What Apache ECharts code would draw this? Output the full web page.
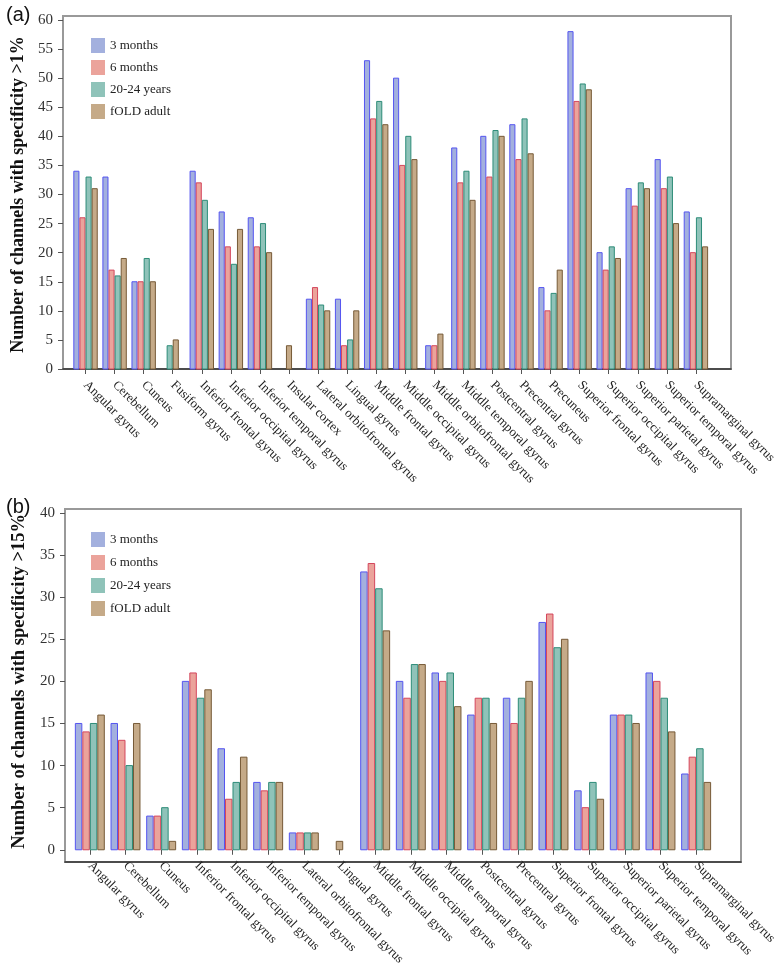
<!DOCTYPE html>
<html>
<head>
<meta charset="utf-8">
<script src="https://cdn.jsdelivr.net/npm/echarts@6/dist/echarts.min.js"></script>
<style>
html,body{margin:0;padding:0;background:#fff;}
#chart{width:779px;height:968px;}
</style>
</head>
<body>
<div id="chart"></div>
<script>
// ---------- DATA ----------
const seriesNames = ['3 months', '6 months', '20-24 years', 'fOLD adult'];

const categoriesA = ['Angular gyrus','Cerebellum','Cuneus','Fusiform gyrus','Inferior frontal gyrus',
  'Inferior occipital gyrus','Inferior temporal gyrus','Insular cortex','Lateral orbitofrontal gyrus',
  'Lingual gyrus','Middle frontal gyrus','Middle occipital gyrus','Middle orbitofrontal gyrus',
  'Middle temporal gyrus','Postcentral gyrus','Precentral gyrus','Precuneus','Superior frontal gyrus',
  'Superior occipital gyrus','Superior parietal gyrus','Superior temporal gyrus','Supramarginal gyrus'];
const months3A = [34,33,15,0,34,27,26,0,12,12,53,50,4,38,40,42,14,58,20,31,36,27];
const months6A = [26,17,15,0,32,21,21,0,14,4,43,35,4,32,33,36,10,46,17,28,31,20];
const years2024A = [33,16,19,4,29,18,25,0,11,5,46,40,0,34,41,43,13,49,21,32,33,26];
const foldAdultA = [31,19,15,5,24,24,20,4,10,10,42,36,6,29,40,37,17,48,19,31,25,21];
const yTicksA = {min: 0, max: 60, interval: 5};

const categoriesB = ['Angular gyrus','Cerebellum','Cuneus','Inferior frontal gyrus','Inferior occipital gyrus',
  'Inferior temporal gyrus','Lateral orbitofrontal gyrus','Lingual gyrus','Middle frontal gyrus',
  'Middle occipital gyrus','Middle temporal gyrus','Postcentral gyrus','Precentral gyrus',
  'Superior frontal gyrus','Superior occipital gyrus','Superior parietal gyrus','Superior temporal gyrus',
  'Supramarginal gyrus'];
const months3B = [15,15,4,20,12,8,2,0,33,20,21,16,18,27,7,16,21,9];
const months6B = [14,13,4,21,6,7,2,0,34,18,20,18,15,28,5,16,20,11];
const years2024B = [15,10,5,18,8,8,2,0,31,22,21,18,18,24,8,16,18,12];
const foldAdultB = [16,15,1,19,11,8,2,1,26,22,17,15,20,25,6,15,14,8];
const yTicksB = {min: 0, max: 40, interval: 5};

// ---------- STYLE ----------
const fills = ['rgb(163,176,222)','rgb(235,163,155)','rgb(143,195,185)','rgb(197,170,136)'];
const strokes = ['rgb(85,85,240)','rgb(212,70,92)','rgb(45,140,120)','rgb(118,90,55)'];
const serif = 'Liberation Serif';

const chart = echarts.init(document.getElementById('chart'), null, {renderer: 'canvas'});

function makeRender(groups, sIdx, ratio) {
  return function (params, api) {
    const ci = params.dataIndex;
    const vals = groups.map(g => g[ci]);
    const nz = [];
    vals.forEach((v, k) => { if (v > 0) nz.push(k); });
    const rank = nz.indexOf(sIdx);
    if (rank < 0) return null;
    const band = api.size([1, 0])[0];
    const bw = band * ratio / 4;
    const base = api.coord([ci, 0]);
    const top = api.coord([ci, vals[sIdx]]);
    const x = base[0] - nz.length * bw / 2 + rank * bw;
    return {
      type: 'rect',
      shape: {x: x + 0.5, y: top[1], width: bw - 1, height: base[1] - top[1]},
      style: {fill: fills[sIdx], stroke: strokes[sIdx], lineWidth: 1}
    };
  };
}

function panelSeries(groups, xIdx, yIdx, ratio) {
  return groups.map((g, k) => ({
    type: 'custom',
    name: seriesNames[k],
    xAxisIndex: xIdx,
    yAxisIndex: yIdx,
    itemStyle: {color: fills[k], borderWidth: 0},
    renderItem: makeRender(groups, k, ratio),
    encode: {x: 0, y: 1},
    data: g.map((v, i) => [i, v])
  }));
}

const groupsA = [months3A, months6A, years2024A, foldAdultA];
const groupsB = [months3B, months6B, years2024B, foldAdultB];

function frameX(gi) {
  return {gridIndex: gi, type: 'value', min: 0, max: 1, position: 'bottom',
    axisLine: {show: true, lineStyle: {color: '#333', width: 1.5}},
    axisTick: {show: false}, axisLabel: {show: false}, splitLine: {show: false}};
}
function frameY(gi) {
  return {gridIndex: gi, type: 'value', min: 0, max: 1, show: false};
}
function dataX(gi, cats) {
  return {gridIndex: gi, type: 'category', data: cats, boundaryGap: true,
    axisLine: {show: false},
    axisTick: {show: true, alignWithLabel: true, length: 5, lineStyle: {color: '#555'}},
    axisLabel: {interval: 0, rotate: -45, margin: 14, fontFamily: serif, fontSize: 13, color: '#222'},
    splitLine: {show: false}};
}
function dataY(gi, ticks, name, offset, nameSize) {
  return {gridIndex: gi, type: 'value', min: ticks.min, max: ticks.max, interval: ticks.interval,
    offset: offset,
    name: name, nameLocation: 'middle', nameGap: 32, nameRotate: 90,
    nameTextStyle: {fontFamily: serif, fontWeight: 'bold', fontSize: nameSize, color: '#111'},
    axisLine: {show: false},
    axisTick: {show: true, length: 5, lineStyle: {color: '#555'}},
    axisLabel: {margin: 10, fontFamily: serif, fontSize: 15, color: '#333'},
    splitLine: {show: false}};
}

function legendAt(top, gap) {
  return {
    orient: 'vertical', left: 86, top: top, itemWidth: 14, itemHeight: 15, itemGap: gap,
    icon: 'rect', data: seriesNames,
    itemStyle: {borderWidth: 0},
    textStyle: {fontFamily: serif, fontSize: 13, color: '#222'}
  };
}

const option = {
  animation: false,
  backgroundColor: '#fff',
  title: [
    {text: '(a)', left: 1, top: 0, textStyle: {fontFamily: 'Liberation Sans', fontSize: 20, fontWeight: 'normal', color: '#111'}},
    {text: '(b)', left: 1, top: 492, textStyle: {fontFamily: 'Liberation Sans', fontSize: 20, fontWeight: 'normal', color: '#111'}}
  ],
  legend: [legendAt(33, 7), legendAt(527, 8)],
  grid: [
    {left: 63, right: 48, top: 16, height: 353, show: true, borderColor: '#999', borderWidth: 2, backgroundColor: 'transparent'},
    {left: 71, right: 55, top: 20, height: 349},
    {left: 65, right: 38, top: 509, height: 353, show: true, borderColor: '#999', borderWidth: 2, backgroundColor: 'transparent'},
    {left: 72, right: 46, top: 513, height: 349}
  ],
  xAxis: [frameX(0), dataX(1, categoriesA), frameX(2), dataX(3, categoriesB)],
  yAxis: [frameY(0), dataY(1, yTicksA, 'Number of channels with specificity >1%', 8, 18),
          frameY(2), dataY(3, yTicksB, 'Number of channels with specificity >15%', 7, 18.5)],
  series: [].concat(panelSeries(groupsA, 1, 1, 0.84), panelSeries(groupsB, 3, 3, 0.84))
};
chart.setOption(option);
</script>
</body>
</html>
